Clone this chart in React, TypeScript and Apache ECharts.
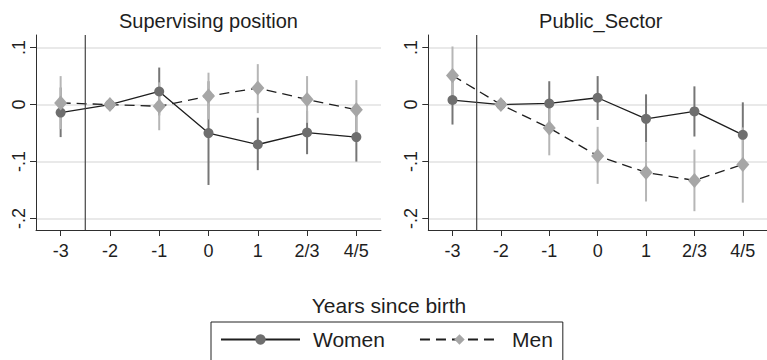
import React, { useEffect, useRef } from "react";
import * as echarts from "echarts";

// ---------- data ----------
const categories = ["-3", "-2", "-1", "0", "1", "2/3", "4/5"];
const panelTitles = ["Supervising position", "Public_Sector"];
const seriesNames = ["Women", "Men"];
const xAxisTitle = "Years since birth";
const yTickValues = [-0.2, -0.1, 0, 0.1];
const yTickLabels = ["-.2", "-.1", "0", ".1"];

// Supervising position
const supWomen = [-0.014, 0, 0.023, -0.05, -0.07, -0.049, -0.057];
const supWomenLo = [-0.057, null, -0.019, -0.141, -0.115, -0.087, -0.1];
const supWomenHi = [0.03, null, 0.065, 0.041, -0.023, -0.011, -0.014];
const supMen = [0.003, 0, -0.003, 0.015, 0.029, 0.009, -0.009];
const supMenLo = [-0.043, null, -0.045, -0.026, -0.015, -0.032, -0.061];
const supMenHi = [0.05, null, 0.039, 0.056, 0.071, 0.05, 0.043];

// Public sector
const pubWomen = [0.008, 0, 0.002, 0.012, -0.025, -0.012, -0.053];
const pubWomenLo = [-0.035, null, -0.036, -0.027, -0.066, -0.056, -0.11];
const pubWomenHi = [0.05, null, 0.041, 0.05, 0.018, 0.032, 0.004];
const pubMen = [0.051, 0, -0.041, -0.09, -0.119, -0.133, -0.105];
const pubMenLo = [0.0, null, -0.089, -0.139, -0.17, -0.187, -0.172];
const pubMenHi = [0.102, null, 0.007, -0.039, -0.066, -0.079, -0.04];

const refLineAfterIndex = 0; // vertical reference line between "-3" and "-2"

// ---------- styling ----------
const FONT = "'Liberation Sans', Arial, Helvetica, sans-serif";
const TXT = "#1e1e1e";
const AXIS = "#2e2e2e";
const WOMEN_MARK = "#6e6e6e";
const WOMEN_CI = "#767676";
const MEN_MARK = "#a6a6a6";
const MEN_CI = "#b6b6b6";
const LINE = "#1e1e1e";

const panelLeft = [36, 428.3];
const panelWidth = 345;
const outerTop = 35;
const outerHeight = 195;
const innerTop = 47.6;
const innerHeight = 171;

function ciData(lo: (number | null)[], hi: (number | null)[]) {
  const out: number[][] = [];
  lo.forEach((l, i) => {
    const h = hi[i];
    if (l !== null && h !== null) out.push([i, l, h]);
  });
  return out;
}

function ciSeries(data: number[][], color: string, axisIdx: number) {
  return {
    type: "custom",
    xAxisIndex: axisIdx,
    yAxisIndex: axisIdx,
    silent: true,
    encode: { x: 0, y: [1, 2] },
    data,
    renderItem: (params: any, api: any) => {
      const i = api.value(0);
      const p1 = api.coord([i, api.value(1)]);
      const p2 = api.coord([i, api.value(2)]);
      return {
        type: "line",
        shape: { x1: p1[0], y1: p1[1], x2: p2[0], y2: p2[1] },
        style: { stroke: color, lineWidth: 2 },
      };
    },
  };
}

function lineSeries(name: string, data: number[], axisIdx: number, men: boolean) {
  return {
    type: "line",
    name,
    xAxisIndex: axisIdx,
    yAxisIndex: axisIdx,
    data,
    symbol: men ? "diamond" : "circle",
    symbolSize: men ? [13, 15] : 10,
    itemStyle: { color: men ? MEN_MARK : WOMEN_MARK },
    lineStyle: {
      color: LINE,
      width: 1.3,
      type: men ? [10, 6] : "solid",
    },
    z: 3,
  };
}

function vlineSeries(axisIdx: number) {
  return {
    type: "custom",
    xAxisIndex: axisIdx,
    yAxisIndex: axisIdx,
    silent: true,
    data: [[refLineAfterIndex, 0]],
    renderItem: (params: any, api: any) => {
      const a = api.coord([api.value(0), 0])[0];
      const b = api.coord([api.value(0) + 1, 0])[0];
      const xm = (a + b) / 2;
      const cs = params.coordSys;
      return {
        type: "line",
        shape: { x1: xm, y1: cs.y, x2: xm, y2: cs.y + cs.height },
        style: { stroke: "#444444", lineWidth: 1.2 },
      };
    },
    z: 4,
  };
}

export default function App() {
  const ref = useRef<HTMLDivElement>(null);

  useEffect(() => {
    if (!ref.current) return;
    const chart = echarts.init(ref.current, undefined, { renderer: "svg" });

    const grids: any[] = [];
    const xAxes: any[] = [];
    const yAxes: any[] = [];
    const series: any[] = [];

    const panelData = [
      [supWomen, supWomenLo, supWomenHi, supMen, supMenLo, supMenHi],
      [pubWomen, pubWomenLo, pubWomenHi, pubMen, pubMenLo, pubMenHi],
    ];

    panelData.forEach((pd, p) => {
      const outer = 2 * p;
      const inner = 2 * p + 1;
      grids.push({ left: panelLeft[p], top: outerTop, width: panelWidth, height: outerHeight });
      grids.push({ left: panelLeft[p], top: innerTop, width: panelWidth, height: innerHeight });

      xAxes.push({
        type: "category",
        gridIndex: outer,
        data: categories,
        boundaryGap: true,
        axisLine: { show: true, onZero: false, lineStyle: { color: AXIS, width: 1 } },
        axisTick: { show: true, alignWithLabel: true, length: 6, lineStyle: { color: AXIS } },
        axisLabel: { fontSize: 18, color: TXT, fontFamily: FONT, margin: 12, interval: 0 },
        splitLine: { show: false },
      });
      xAxes.push({
        type: "category",
        gridIndex: inner,
        data: categories,
        boundaryGap: true,
        show: false,
      });
      yAxes.push({
        type: "value",
        gridIndex: outer,
        min: 0,
        max: 1,
        axisLine: { show: true, lineStyle: { color: AXIS, width: 1 } },
        axisTick: { show: false },
        axisLabel: { show: false },
        splitLine: { show: false },
      });
      yAxes.push({
        type: "value",
        gridIndex: inner,
        min: -0.2,
        max: 0.1,
        interval: 0.1,
        axisLine: { show: false },
        axisTick: { show: true, length: 6, lineStyle: { color: AXIS } },
        axisLabel: {
          rotate: 90,
          margin: 8,
          fontSize: 18,
          color: TXT,
          fontFamily: FONT,
          formatter: (v: number) => {
            const k = yTickValues.findIndex((t) => Math.abs(t - v) < 1e-9);
            return k >= 0 ? yTickLabels[k] : "";
          },
        },
        splitLine: { show: true, lineStyle: { color: "#e2e2e2", width: 1.6 } },
      });

      const [w, wLo, wHi, m, mLo, mHi] = pd as any;
      series.push(ciSeries(ciData(wLo, wHi), WOMEN_CI, inner));
      series.push(ciSeries(ciData(mLo, mHi), MEN_CI, inner));
      series.push(lineSeries(seriesNames[0], w, inner, false));
      series.push(lineSeries(seriesNames[1], m, inner, true));
      series.push(vlineSeries(outer));
    });

    chart.setOption({
      animation: false,
      backgroundColor: "#ffffff",
      textStyle: { fontFamily: FONT },
      grid: grids,
      xAxis: xAxes,
      yAxis: yAxes,
      series,
      legend: {
        data: seriesNames,
        left: 211,
        top: 322,
        orient: "horizontal",
        padding: [7, 10, 12, 9],
        itemWidth: 79,
        itemHeight: 13,
        itemGap: 34,
        borderColor: "#222",
        borderWidth: 1,
        textStyle: { fontSize: 21, color: TXT, fontFamily: FONT, padding: [0, 0, 0, 8] },
      },
      graphic: [
        ...panelTitles.map((t, p) => ({
          type: "text",
          x: panelLeft[p] + panelWidth / 2,
          y: 21,
          style: {
            text: t,
            align: "center",
            verticalAlign: "middle",
            fontSize: 20,
            fontFamily: FONT,
            fill: TXT,
          },
        })),
        {
          type: "text",
          x: 389,
          y: 305,
          style: {
            text: xAxisTitle,
            align: "center",
            verticalAlign: "middle",
            fontSize: 21,
            fontFamily: FONT,
            fill: TXT,
          },
        },
      ],
    });

    return () => chart.dispose();
  }, []);

  return (
    <div
      ref={ref}
      style={{ position: "absolute", left: 0, top: 0, width: 767, height: 360, background: "#fff" }}
    />
  );
}
